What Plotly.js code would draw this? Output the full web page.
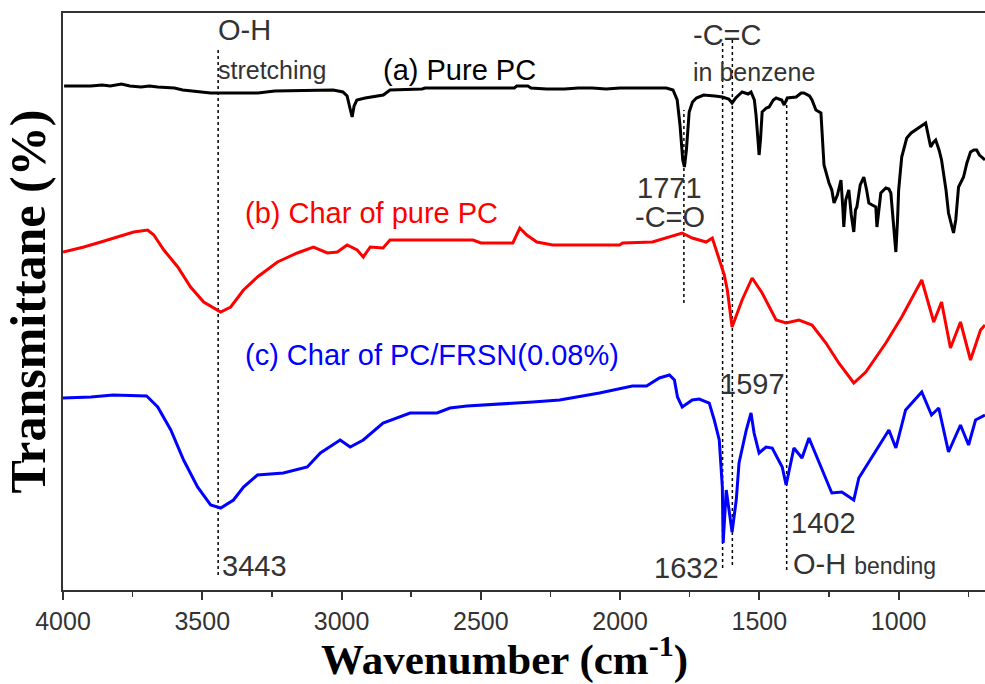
<!DOCTYPE html>
<html>
<head>
<meta charset="utf-8">
<script src="https://cdn.plot.ly/plotly-3.0.1.min.js"></script>
<style>html,body{margin:0;padding:0;background:#fff;}#chart{width:985px;height:684px;}</style>
</head>
<body>
<div id="chart"></div>
<script>
// (a) Pure PC
const wnA = [3996,3900,3860,3830,3790,3760,3720,3690,3660,3600,3570,3500,3470,3434,3300,3240,3100,3030,2995,2980,2970,2962,2955,2945,2915,2880,2850,2826,2711,2700,2380,2371,2331,2320,2264,2200,2150,2100,2050,2000,1900,1834,1810,1795,1785,1775,1769,1762,1752,1740,1726,1700,1660,1633,1610,1598,1585,1562,1540,1530,1518,1512,1505,1501,1496,1490,1475,1465,1450,1440,1420,1411,1400,1368,1350,1340,1320,1311,1297,1279,1268,1250,1240,1232,1220,1207,1200,1197,1190,1179,1170,1161,1155,1150,1138,1125,1115,1107,1095,1082,1078,1070,1064,1046,1035,1028,1018,1010,1004,1000,989,971,955,939,920,903,885,877,867,855,846,830,821,803,795,785,767,755,742,730,720,710,690];
const tA = [504,504,505,504,506,504,503,504,503,502,500,498,497,497,497,499,500,500,498,494,482,473,484,490,492,494,495,500,501,502,502,504,504,502,501,501,502,502,501,502,502,502,500,490,465,430,423,440,478,488,492,495,494,493,491,487,492,498,496,498,490,475,450,435,450,478,482,483,490,492,490,485,492,493,497,497,494,490,480,477,425,407,400,387,395,410,380,363,390,400,375,358,380,383,405,413,400,387,385,383,363,385,397,402,401,397,367,338,370,400,433,452,457,460,464,467,443,447,450,440,430,400,377,357,370,403,413,427,438,440,440,435,430];

// (b) Char of pure PC
const wnB = [4000,3925,3864,3803,3746,3696,3674,3638,3588,3542,3495,3434,3398,3352,3302,3230,3159,3101,3051,3015,2980,2944,2922,2897,2851,2826,2528,2500,2385,2360,2335,2299,2242,2002,1991,1884,1834,1777,1741,1691,1669,1644,1626,1615,1598,1562,1526,1490,1440,1404,1358,1311,1261,1215,1161,1118,1046,989,917,874,846,814,778,742,706,690];
const tB = [338,343,348,353,358,360,355,340,323,303,288,278,283,300,313,328,337,343,337,338,345,340,333,343,342,350,350,347,347,362,355,348,345,345,347,348,352,357,352,348,352,330,315,300,263,290,312,297,270,267,270,265,247,227,207,218,247,273,310,268,288,242,268,230,260,265];

// (c) Char of PC/FRSN(0.08%)
const wnC = [4000,3900,3820,3700,3696,3660,3613,3567,3517,3470,3434,3388,3352,3302,3209,3123,3076,3005,2969,2922,2851,2754,2657,2611,2550,2407,2314,2217,2074,1956,1905,1859,1823,1805,1794,1777,1741,1716,1680,1662,1644,1633,1630,1619,1608,1598,1583,1573,1547,1530,1519,1501,1476,1454,1418,1404,1376,1347,1322,1275,1240,1204,1161,1143,1096,1035,1010,975,917,882,856,821,778,749,724,690];
const tC = [192,193,195,194,193,183,160,130,103,85,82,90,103,115,117,123,137,150,143,150,167,177,177,182,184,186,188,190,197,204,204,212,215,210,193,183,190,191,187,170,150,103,47,100,77,58,90,127,160,177,157,137,143,142,123,105,142,132,152,120,97,98,90,112,133,160,142,180,198,175,182,138,165,145,170,175];

// marked bands: position, line start/end (transmittance units)
const bandWn  = [3443, 1771, 1632, 1597, 1402];
const bandTop = [540, 480, 550, 550, 493];
const bandBot = [15, 287, 22, 25, 20];

const seriesNames  = ['(a) Pure PC', '(b) Char of pure PC', '(c) Char of PC/FRSN(0.08%)'];
const seriesColors = ['#000000', '#ff0000', '#0000ff'];

const traces = [];
bandWn.forEach((w, i) => {
  traces.push({x:[w, w], y:[bandBot[i], bandTop[i]], mode:'lines', type:'scatter',
    line:{color:'#000', width:1.5, dash:'dot'}, hoverinfo:'skip', showlegend:false});
});
[[wnA,tA],[wnB,tB],[wnC,tC]].forEach((s, i) => {
  traces.push({x:s[0], y:s[1], mode:'lines', type:'scatter', name:seriesNames[i],
    line:{color:seriesColors[i], width:3}, showlegend:false});
});

const sans = 'Liberation Sans, Arial, sans-serif';
const serif = 'Liberation Serif, Times New Roman, serif';
const txt = '#333';
function ann(x, y, text, size, color, xanchor) {
  return {x:x, y:y, xref:'x', yref:'y', text:text, showarrow:false, xanchor:xanchor||'left', yanchor:'middle',
    font:{family:sans, size:size, color:color||txt}};
}
const annotations = [
  ann(3450, 560, 'O-H', 29),
  ann(3450, 520, 'stretching', 25),
  ann(2860, 520, seriesNames[0], 29, '#000'),
  ann(1745, 555, '-C=C', 29),
  ann(1745, 518, 'in benzene', 25),
  ann(1945, 402, '1771', 29),
  ann(1952, 373, '-C=O', 29),
  ann(3355, 377, seriesNames[1], 29, '#ff0000'),
  ann(3355, 235, seriesNames[2], 29, '#0000ff'),
  ann(1650, 206, '1597', 29),
  ann(3435, 24, '3443', 29),
  ann(1638, 22, '1632', 29, txt, 'right'),
  ann(1395, 67, '1402', 29),
  ann(1385, 26, 'O-H <span style="font-size:23px">bending</span>', 29),
  {x:0.479, y:0, xref:'paper', yref:'paper', yshift:-66, xanchor:'center', yanchor:'middle', showarrow:false,
   text:'<b>Wavenumber (cm<sup>-1</sup>)</b>', font:{family:serif, size:43, color:'#000'}}
];

const layout = {
  width:985, height:684,
  margin:{l:63, r:0, t:13, b:94},
  paper_bgcolor:'#fff', plot_bgcolor:'#fff',
  showlegend:false,
  xaxis:{
    range:[4000, 690], autorange:false,
    showline:true, linecolor:'#333', linewidth:2, mirror:true,
    showgrid:false, zeroline:false,
    ticks:'outside', ticklen:8, tickwidth:2, tickcolor:'#333',
    dtick:500, tick0:0,
    minor:{ticks:'outside', ticklen:5, tickwidth:1.5, tickcolor:'#333', dtick:250, showgrid:false},
    tickfont:{family:sans, size:25, color:'#333'}
  },
  yaxis:{
    range:[0, 577], autorange:false,
    showline:true, linecolor:'#333', linewidth:2, mirror:true,
    showgrid:false, zeroline:false, showticklabels:false, ticks:'',
    title:{text:'<b>Transmittane (%)</b>', font:{family:serif, size:50, color:'#000'}, standoff:6}
  },
  annotations:annotations
};

Plotly.newPlot('chart', traces, layout, {displayModeBar:false, staticPlot:true});
</script>
</body>
</html>
